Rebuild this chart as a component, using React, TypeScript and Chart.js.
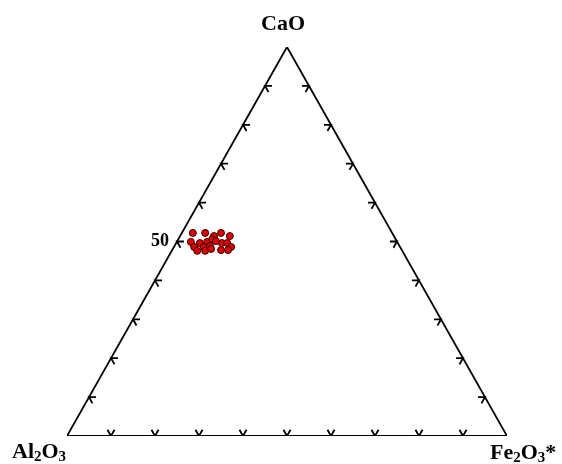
import React, { useEffect, useRef } from "react";
import { Chart, registerables } from "chart.js";

Chart.register(...registerables);

// Ternary compositions (wt %), each sample sums to 100
const caoValues = [52.2, 52.2, 51.4, 52.2, 51.4, 49.9, 49.6, 49.9, 50.6, 48.6, 48.6, 48.8, 49.6, 49.6, 48.6, 47.6, 47.6, 48.1, 47.8, 47.8, 50.1];
const fe2o3Values = [2.5, 5.3, 7.7, 8.9, 11.3, 3.2, 5.4, 6.9, 7.7, 4.6, 6.8, 8.1, 10.4, 11.6, 13.0, 5.8, 7.6, 8.7, 11.1, 12.7, 8.8];
const al2o3Values = [45.3, 42.5, 40.9, 38.9, 37.3, 46.9, 45.0, 43.2, 41.7, 46.8, 44.6, 43.1, 40.0, 38.8, 38.4, 46.6, 44.8, 43.2, 41.1, 39.5, 41.1];
const tickValues = [10, 20, 30, 40, 50, 60, 70, 80, 90];
const labeledTick = "50";

// ternary -> cartesian (x: 0..100 along base, y: CaO fraction of height)
const toXY = (cao: number, al: number, fe: number) => {
  const s = cao + al + fe;
  const c = (cao / s) * 100;
  const f = (fe / s) * 100;
  return { x: f + c / 2, y: c };
};

export default function App() {
  const ref = useRef<HTMLCanvasElement>(null);
  useEffect(() => {
    if (!ref.current) return;
    const L = 1.6;
    const datasets: any[] = [];
    datasets.push({
      type: "scatter",
      data: [toXY(0, 100, 0), toXY(0, 0, 100), toXY(100, 0, 0), toXY(0, 100, 0)],
      showLine: true,
      borderColor: "#000",
      borderWidth: 1.8,
      pointRadius: 0,
      order: 2,
    });
    tickValues.forEach((t) => {
      // bottom edge (Fe = t, CaO = 0)
      datasets.push({
        data: [toXY(L, 100 - t - L, t), toXY(0, 100 - t, t), toXY(L, 100 - t, t - L)],
      });
      // left edge (CaO = t, Fe = 0)
      datasets.push({
        data: [toXY(t, 100 - t - L, L), toXY(t, 100 - t, 0), toXY(t - L, 100 - t, L)],
      });
      // right edge (CaO = t, Al = 0)
      datasets.push({
        data: [toXY(t, L, 100 - t - L), toXY(t, 0, 100 - t), toXY(t - L, L, 100 - t)],
      });
    });
    for (let i = 1; i < datasets.length; i++) {
      Object.assign(datasets[i], {
        type: "scatter",
        showLine: true,
        borderColor: "#000",
        borderWidth: 1.8,
        pointRadius: 0,
        order: 2,
      });
    }
    datasets.push({
      type: "scatter",
      data: caoValues.map((c, i) => toXY(c, al2o3Values[i], fe2o3Values[i])),
      pointRadius: 3.5,
      pointBackgroundColor: "#e00000",
      pointBorderColor: "#300000",
      pointBorderWidth: 1,
      showLine: false,
      order: 0,
    });

    const labels = {
      id: "ternaryLabels",
      afterDraw(chart: any) {
        const ctx = chart.ctx;
        const xs = chart.scales.x;
        const ys = chart.scales.y;
        ctx.save();
        ctx.fillStyle = "#000";
        ctx.textBaseline = "alphabetic";
        const big = "bold 22px 'Liberation Serif', 'Times New Roman', serif";
        const small = "bold 15px 'Liberation Serif', 'Times New Roman', serif";
        const drawParts = (parts: [string, boolean][], x0: number, y0: number) => {
          let x = x0;
          parts.forEach(([txt, sub]) => {
            ctx.font = sub ? small : big;
            ctx.fillText(txt, x, sub ? y0 + 3 : y0);
            x += ctx.measureText(txt).width;
          });
        };
        const apex = { x: xs.getPixelForValue(50), y: ys.getPixelForValue(100) };
        ctx.font = big;
        ctx.textAlign = "center";
        ctx.fillText("CaO", apex.x - 4, apex.y - 17);
        ctx.textAlign = "left";
        const bl = { x: xs.getPixelForValue(0), y: ys.getPixelForValue(0) };
        const br = { x: xs.getPixelForValue(100), y: ys.getPixelForValue(0) };
        drawParts([["Al", false], ["2", true], ["O", false], ["3", true]], bl.x - 55, bl.y + 22);
        drawParts([["Fe", false], ["2", true], ["O", false], ["3", true], ["*", false]], br.x - 17, br.y + 23);
        const p50 = toXY(50, 50, 0);
        ctx.font = "bold 18px 'Liberation Serif', 'Times New Roman', serif";
        ctx.textAlign = "right";
        ctx.fillText(labeledTick, xs.getPixelForValue(p50.x) - 8, ys.getPixelForValue(p50.y) + 4);
        ctx.restore();
      },
    };

    const chart = new Chart(ref.current, {
      type: "scatter",
      data: { datasets },
      options: {
        animation: false,
        responsive: false,
        events: [],
        layout: { padding: { left: 67, right: 55, top: 47, bottom: 28 } },
        plugins: { legend: { display: false }, tooltip: { enabled: false } },
        scales: {
          x: { type: "linear", min: 0, max: 100, display: false },
          y: { type: "linear", min: 0, max: 100, display: false },
        },
      },
      plugins: [labels],
    });
    return () => chart.destroy();
  }, []);
  return (
    <div style={{ position: "fixed", left: 0, top: 0, width: 562, height: 464, background: "#fff" }}>
      <canvas ref={ref} width={562} height={464} />
    </div>
  );
}
